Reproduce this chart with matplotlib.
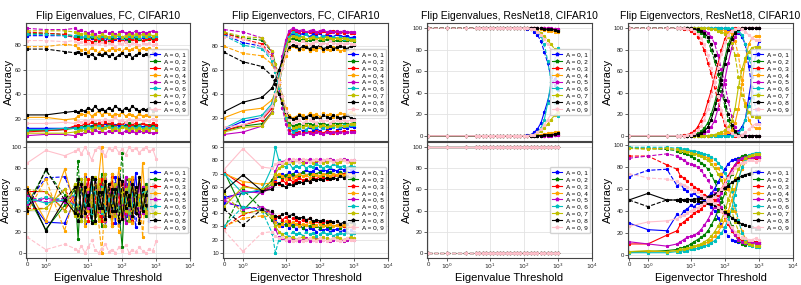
import matplotlib
matplotlib.use("Agg")
import matplotlib.pyplot as plt
from matplotlib.ticker import FixedLocator, NullLocator

plt.rcParams['font.family'] = ['Liberation Sans', 'DejaVu Sans']

# ---------------- data ----------------
thresholds = [0, 1, 2, 4, 5, 6.3, 8, 10, 12.6, 16, 20, 25, 32, 40, 50, 63, 80,
              100, 126, 160, 200, 250, 320, 400, 500, 630, 800, 1000]

pair_labels = ["A = 0, 1", "A = 0, 2", "A = 0, 3", "A = 0, 4", "A = 0, 5",
               "A = 0, 6", "A = 0, 7", "A = 0, 8", "A = 0, 9"]
pair_colors = ["blue", "green", "red", "orange", "m", "c", "y", "k", "pink"]

titles = ["Flip Eigenvalues, FC, CIFAR10", "Flip Eigenvectors, FC, CIFAR10",
          "Flip Eigenvalues, ResNet18, CIFAR10", "Flip Eigenvectors, ResNet18, CIFAR10"]
xlabels = ["Eigenvalue Threshold", "Eigenvector Threshold",
           "Eigenvalue Threshold", "Eigenvector Threshold"]
xtick_values = [0, 1, 10, 100, 1000, 10000]
xtick_labels = ["0", r"$10^0$", r"$10^1$", r"$10^2$", r"$10^3$", r"$10^4$"]

# solid-line accuracies (dashed line of each pair is the complementary class share)
fc_eigval_top = [
    [12, 12, 12, 13, 12, 13, 14, 13, 14, 15, 13, 14, 16, 14, 13, 15, 14, 13, 15, 14, 13, 14, 15, 13, 14, 13, 14, 13],
    [10, 10, 11, 12, 13, 12, 14, 15, 13, 16, 14, 15, 13, 16, 15, 14, 16, 15, 14, 16, 15, 14, 15, 16, 14, 15, 14, 15],
    [9, 10, 11, 14, 15, 14, 16, 15, 17, 15, 16, 14, 17, 15, 16, 14, 16, 15, 17, 14, 15, 16, 14, 16, 15, 14, 16, 15],
    [21, 21, 19, 20, 22, 24, 23, 25, 22, 24, 26, 23, 25, 24, 22, 24, 23, 25, 22, 24, 23, 21, 24, 22, 23, 22, 24, 22],
    [6, 7, 7, 6, 8, 7, 9, 10, 8, 11, 9, 10, 8, 10, 9, 11, 9, 8, 10, 9, 10, 8, 10, 9, 10, 9, 8, 9],
    [11, 11, 12, 12, 11, 13, 12, 14, 12, 13, 14, 12, 13, 14, 12, 13, 12, 14, 13, 12, 13, 12, 14, 12, 13, 12, 13, 12],
    [8, 8, 8, 9, 10, 11, 10, 12, 11, 13, 12, 11, 12, 13, 11, 12, 11, 13, 12, 11, 12, 11, 12, 11, 12, 11, 12, 11],
    [23, 23, 25, 26, 25, 27, 26, 29, 27, 30, 27, 28, 26, 29, 27, 30, 28, 26, 29, 27, 30, 28, 26, 28, 27, 29, 26, 27],
    [16, 16, 17, 16, 18, 17, 19, 18, 20, 18, 19, 17, 20, 18, 19, 21, 18, 19, 17, 20, 18, 19, 20, 18, 19, 18, 20, 19],
]

fc_eigval_bottom = [
    [53, 29, 28, 50, 65, 38, 72, 45, 30, 70, 55, 35, 75, 40, 60, 28, 72, 50, 35, 68, 42, 76, 30, 62, 45, 70, 35, 55],
    [55, 22, 45, 60, 13, 70, 40, 58, 30, 65, 45, 75, 35, 55, 25, 60, 40, 5, 70, 45, 30, 62, 50, 38, 65, 40, 58, 45],
    [58, 58, 40, 55, 35, 62, 45, 70, 38, 52, 65, 30, 58, 45, 72, 40, 55, 35, 62, 48, 70, 38, 55, 45, 62, 35, 50, 55],
    [62, 30, 79, 45, 60, 35, 75, 40, 55, 30, 70, 100, 45, 65, 25, 55, 80, 40, 60, 35, 72, 45, 30, 85, 40, 60, 48, 55],
    [46, 52, 48, 55, 40, 62, 35, 58, 45, 70, 40, 55, 30, 65, 50, 38, 60, 45, 72, 35, 55, 42, 65, 38, 58, 45, 62, 50],
    [52, 47, 50, 45, 58, 40, 55, 48, 62, 42, 55, 38, 60, 50, 45, 58, 40, 52, 48, 62, 44, 55, 50, 42, 58, 48, 52, 50],
    [40, 42, 60, 35, 65, 30, 70, 45, 55, 28, 68, 40, 75, 35, 55, 65, 30, 58, 40, 70, 35, 62, 45, 55, 38, 65, 42, 60],
    [60, 21, 50, 38, 70, 35, 62, 45, 72, 30, 58, 42, 68, 35, 60, 40, 70, 32, 58, 45, 65, 38, 72, 40, 55, 62, 35, 50],
    [85, 97, 92, 96, 98, 94, 100, 95, 88, 97, 100, 96, 92, 99, 97, 100, 95, 98, 93, 100, 97, 99, 95, 98, 100, 96, 98, 89],
]

fc_eigvec_top = [
    [10, 17, 20, 30, 38, 50, 65, 78, 87, 91, 90, 89, 91, 90, 88, 90, 89, 91, 88, 90, 89, 88, 90, 89, 88, 89, 87, 88],
    [9, 13, 15, 25, 35, 48, 62, 75, 84, 87, 86, 85, 86, 84, 85, 86, 84, 85, 84, 86, 85, 84, 85, 84, 85, 84, 85, 84],
    [9, 14, 18, 28, 38, 52, 68, 82, 90, 94, 93, 92, 93, 91, 92, 93, 91, 92, 93, 91, 92, 93, 91, 92, 91, 92, 91, 91],
    [20, 26, 28, 35, 42, 52, 62, 72, 78, 80, 79, 77, 78, 80, 76, 78, 77, 79, 76, 78, 77, 79, 78, 76, 77, 78, 75, 77],
    [6, 8, 13, 25, 38, 55, 72, 85, 93, 95, 94, 93, 94, 92, 93, 94, 92, 93, 94, 92, 93, 92, 93, 92, 93, 92, 92, 92],
    [11, 19, 22, 32, 42, 55, 68, 80, 88, 92, 90, 89, 88, 90, 87, 89, 88, 87, 89, 88, 86, 88, 87, 88, 86, 87, 86, 86],
    [8, 12, 13, 24, 35, 50, 65, 78, 86, 89, 88, 87, 88, 86, 87, 88, 86, 87, 86, 88, 87, 86, 87, 86, 87, 86, 85, 85],
    [25, 33, 37, 45, 52, 60, 68, 75, 79, 81, 80, 78, 80, 79, 78, 80, 79, 81, 78, 79, 80, 78, 79, 80, 79, 78, 80, 81],
    [12, 14, 20, 30, 40, 50, 62, 74, 82, 84, 83, 82, 84, 83, 82, 83, 84, 82, 83, 82, 84, 83, 82, 83, 82, 83, 82, 82],
]

fc_eigvec_bottom = [
    [52, 55, 57, 62, 66, 68, 70, 68, 71, 69, 72, 70, 71, 73, 71, 72, 74, 72, 73, 72, 74, 73, 72, 74, 73, 74, 73, 74],
    [72, 42, 57, 65, 70, 68, 66, 69, 67, 70, 68, 69, 71, 69, 70, 68, 70, 71, 69, 70, 71, 70, 69, 71, 70, 71, 70, 71],
    [71, 61, 57, 60, 64, 62, 65, 63, 66, 64, 65, 67, 65, 66, 64, 67, 66, 68, 67, 66, 68, 67, 69, 68, 70, 69, 70, 71],
    [70, 64, 62, 63, 67, 70, 68, 66, 69, 67, 68, 70, 68, 69, 67, 70, 69, 68, 70, 69, 68, 70, 69, 70, 69, 70, 69, 70],
    [50, 57, 55, 60, 72, 78, 79, 80, 81, 79, 80, 81, 80, 79, 81, 80, 79, 81, 80, 79, 81, 80, 79, 80, 81, 80, 79, 80],
    [70, 55, 58, 75, 90, 80, 76, 75, 78, 74, 76, 75, 77, 74, 76, 75, 77, 76, 74, 76, 75, 77, 76, 75, 76, 74, 76, 75],
    [45, 60, 58, 62, 70, 74, 76, 78, 79, 78, 80, 79, 78, 80, 79, 78, 80, 79, 78, 79, 80, 79, 78, 79, 80, 79, 78, 79],
    [57, 69, 57, 58, 62, 63, 61, 60, 62, 61, 63, 64, 63, 65, 64, 66, 65, 66, 65, 67, 66, 67, 66, 68, 67, 68, 67, 68],
    [73, 89, 75, 74, 77, 79, 78, 80, 79, 81, 80, 79, 81, 80, 79, 80, 81, 79, 80, 81, 80, 79, 80, 81, 80, 79, 80, 80],
]

resnet_eigval_top = [
    [0, 0, 0, 0, 0, 0, 0, 0, 0, 0, 0, 0, 0, 0, 0, 0, 0, 0, 0.5, 1, 3, 6, 12, 22, 32, 45, 53, 57],
    [0, 0, 0, 0, 0, 0, 0, 0, 0, 0, 0, 0, 0, 0, 0, 0, 0, 0, 0, 0, 0, 0, 0, 0, 0.5, 1, 1, 1.5],
    [0, 0, 0, 0, 0, 0, 0, 0, 0, 0, 0, 0, 0, 0, 0, 0, 0, 0, 0, 0, 0, 0, 0, 0, 0, 0.5, 1, 1],
    [0, 0, 0, 0, 0, 0, 0, 0, 0, 0, 0, 0, 0, 0, 0, 0, 0, 0, 0, 0, 0, 0.5, 1, 1.5, 2, 2.5, 3, 3],
    [0, 0, 0, 0, 0, 0, 0, 0, 0, 0, 0, 0, 0, 0, 0, 0, 0, 0, 0, 0, 0, 0, 0, 0, 0, 0, 0.5, 0.5],
    [0, 0, 0, 0, 0, 0, 0, 0, 0, 0, 0, 0, 0, 0, 0, 0, 0, 0, 0, 0.5, 1, 3, 7, 15, 30, 50, 70, 82],
    [0, 0, 0, 0, 0, 0, 0, 0, 0, 0, 0, 0, 0, 0, 0, 0, 0, 0, 0, 0.5, 1, 2, 4, 7, 11, 15, 19, 22],
    [0, 0, 0, 0, 0, 0, 0, 0, 0, 0, 0, 0, 0, 0, 0, 0, 0, 0, 0, 0, 0, 0, 0, 0.5, 1, 1, 1.5, 2],
    [0, 0, 0, 0, 0, 0, 0, 0, 0, 0, 0, 0, 0, 0, 0, 0, 0, 0, 0, 0.5, 1, 3, 6, 10, 15, 20, 25, 28],
]

resnet_eigval_bottom = [
    [100, 100, 100, 100, 100, 100, 100, 100, 100, 100, 100, 100, 100, 100, 100, 100, 100, 100, 100, 100, 100, 100, 100, 100, 100, 100, 100, 100],
    [100, 100, 100, 100, 100, 100, 100, 100, 100, 100, 100, 100, 100, 100, 100, 100, 100, 100, 100, 100, 100, 100, 100, 100, 100, 100, 100, 100],
    [100, 100, 100, 100, 100, 100, 100, 100, 100, 100, 100, 100, 100, 100, 100, 100, 100, 100, 100, 100, 100, 100, 100, 100, 100, 100, 100, 100],
    [100, 100, 100, 100, 100, 100, 100, 100, 100, 100, 100, 100, 100, 100, 100, 100, 100, 100, 100, 100, 100, 100, 100, 100, 100, 100, 100, 100],
    [100, 100, 100, 100, 100, 100, 100, 100, 100, 100, 100, 100, 100, 100, 100, 100, 100, 100, 100, 100, 100, 100, 100, 100, 100, 100, 100, 100],
    [100, 100, 100, 100, 100, 100, 100, 100, 100, 100, 100, 100, 100, 100, 100, 100, 100, 100, 100, 100, 100, 100, 100, 100, 100, 100, 100, 100],
    [100, 100, 100, 100, 100, 100, 100, 100, 100, 100, 100, 100, 100, 100, 100, 100, 100, 100, 100, 100, 100, 100, 100, 100, 100, 100, 100, 100],
    [100, 100, 100, 100, 100, 100, 100, 100, 100, 100, 100, 100, 100, 100, 100, 100, 100, 100, 100, 100, 100, 100, 100, 100, 100, 100, 100, 100],
    [100, 100, 100, 100, 100, 100, 100, 100, 100, 100, 100, 100, 100, 100, 100, 100, 100, 100, 100, 100, 100, 100, 100, 100, 100, 100, 100, 100],
]

resnet_eigvec_top = [
    [0, 0, 0, 0, 0, 0, 0, 0, 0, 0, 0, 0, 0, 0, 0, 0, 0, 0, 0.5, 1, 2, 4, 8, 15, 35, 55, 75, 88],
    [0, 0, 0, 0, 0, 0, 0, 0.5, 1, 2, 4, 7, 12, 20, 30, 43, 58, 72, 85, 93, 97, 99, 100, 100, 100, 100, 100, 100],
    [0, 0, 0, 0, 0, 0.5, 1, 2, 4, 8, 14, 20, 32, 42, 55, 67, 80, 90, 96, 99, 100, 100, 100, 100, 100, 100, 100, 100],
    [0, 0, 0, 0, 0, 0, 0, 0, 0, 0, 0, 0, 0, 0, 0.5, 1, 1, 2, 3, 5, 12, 25, 48, 70, 85, 91, 93, 93],
    [0, 0, 0, 0, 0, 0, 0, 0, 0, 0.5, 1, 2, 4, 8, 14, 25, 38, 52, 68, 82, 92, 97, 99, 100, 100, 100, 100, 100],
    [0, 0, 0, 0, 0, 0, 0, 0, 0, 0, 0, 0, 0, 0, 0, 0, 0, 0, 0, 0, 0.5, 2, 6, 15, 28, 36, 39, 40],
    [0, 0, 0, 0, 0, 0, 0, 0, 0, 0, 0, 0, 0, 0.5, 1, 2, 3, 5, 8, 14, 25, 45, 62, 72, 78, 82, 83, 83],
    [0, 0, 0, 0, 0, 0, 0, 0, 0.5, 1, 2, 4, 8, 15, 25, 38, 52, 67, 80, 90, 96, 99, 100, 100, 100, 100, 100, 100],
    [0, 0, 0, 0, 0, 0, 0.5, 1, 2, 5, 9, 15, 25, 37, 50, 63, 76, 87, 94, 98, 99, 100, 99, 97, 94, 91, 89, 89],
]

resnet_eigvec_bottom = [
    [29, 23, 22, 37, 35, 40, 42, 45, 44, 47, 48, 50, 53, 56, 60, 66, 72, 78, 83, 86, 87, 88, 87, 88, 89, 88, 88, 88],
    [3, 3, 4, 5, 6, 7, 8, 10, 12, 14, 16, 18, 22, 27, 33, 40, 48, 56, 65, 74, 82, 87, 90, 91, 90, 89, 90, 90],
    [10, 10, 18, 22, 28, 30, 33, 35, 38, 40, 42, 45, 47, 49, 51, 55, 60, 66, 72, 78, 82, 85, 87, 88, 88, 87, 88, 88],
    [2, 3, 3, 4, 4, 5, 5, 6, 7, 8, 9, 10, 12, 14, 17, 21, 26, 32, 40, 50, 60, 70, 78, 85, 88, 90, 90, 90],
    [12, 10, 8, 10, 12, 14, 16, 17, 18, 20, 23, 27, 32, 38, 44, 50, 56, 63, 70, 77, 82, 86, 88, 89, 89, 88, 89, 89],
    [2, 2, 2, 3, 3, 4, 4, 5, 5, 6, 7, 8, 9, 11, 13, 16, 20, 25, 32, 42, 55, 68, 80, 87, 91, 92, 93, 93],
    [3, 4, 3, 4, 5, 5, 6, 7, 8, 9, 10, 12, 14, 17, 21, 26, 32, 40, 50, 60, 70, 78, 84, 88, 90, 91, 92, 92],
    [50, 56, 50, 50, 49, 50, 51, 50, 51, 51, 52, 52, 53, 54, 55, 57, 59, 61, 63, 66, 68, 70, 72, 73, 74, 75, 76, 76],
    [26, 30, 31, 33, 35, 36, 38, 40, 42, 43, 45, 47, 49, 51, 53, 56, 60, 65, 70, 75, 79, 82, 84, 85, 86, 86, 85, 86],
]

top_row = [fc_eigval_top, fc_eigvec_top, resnet_eigval_top, resnet_eigvec_top]
bottom_row = [fc_eigval_bottom, fc_eigvec_bottom, resnet_eigval_bottom, resnet_eigvec_bottom]

# ---------------- layout ----------------
W, H = 801, 285
fig = plt.figure(figsize=(W / 100, H / 100), dpi=100)

col_left = [26, 223, 427, 628]
col_right = [190, 388, 592, 793]
row_bounds = [(23, 141), (142, 258)]


def px_rect(l, r, t, b):
    return [l / W, (H - b) / H, (r - l) / W, (b - t) / H]


def style_axes(ax, show_xlabels):
    ax.set_xscale('symlog', linthresh=2, linscale=1)
    ax.set_xlim(-0.05, 1e4)
    ax.xaxis.set_major_locator(FixedLocator(xtick_values))
    ax.xaxis.set_minor_locator(NullLocator())
    if show_xlabels:
        ax.set_xticklabels(xtick_labels)
    else:
        ax.set_xticklabels([])
    ax.grid(True, color='#e3e3e3', lw=0.6)
    ax.set_axisbelow(True)
    for s in ax.spines.values():
        s.set_color('#444444')
        s.set_linewidth(0.8)
    ax.tick_params(labelsize=4.3, length=2, width=0.5, pad=1.0, colors='#222222')
    ax.set_ylabel("Accuracy", fontsize=8, labelpad=0.5)


for col in range(4):
    for row, data in enumerate([top_row[col], bottom_row[col]]):
        t, b = row_bounds[row]
        ax = fig.add_axes(px_rect(col_left[col], col_right[col], t, b))
        for i in range(9):
            vals = data[i]
            ax.plot(thresholds, vals, color=pair_colors[i], marker='*', ms=2.0,
                    lw=0.8, label=pair_labels[i])
            ax.plot(thresholds, [100 - v for v in vals], color=pair_colors[i],
                    marker='*', ms=2.0, lw=0.8, ls='--')
        style_axes(ax, row == 1)
        ax.legend(loc='center right', fontsize=4.6, labelspacing=0.22,
                  handlelength=1.6, handletextpad=0.5, borderpad=0.4,
                  borderaxespad=0.3, framealpha=0.85, edgecolor='#cccccc',
                  fancybox=True, markerscale=1.3)
        if row == 0:
            ax.set_title(titles[col], fontsize=7.5, pad=3)
        else:
            ax.set_xlabel(xlabels[col], fontsize=8, labelpad=1)

fig.savefig("out.png", dpi=100)
